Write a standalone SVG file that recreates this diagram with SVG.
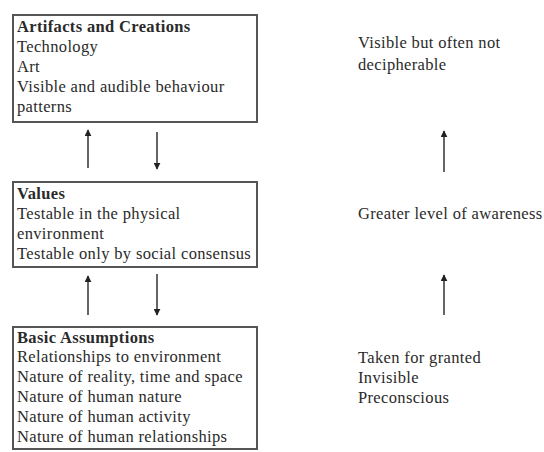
<svg xmlns="http://www.w3.org/2000/svg" width="544" height="452" viewBox="0 0 544 452">
<defs>
<marker id="ah" viewBox="0 0 10 10" refX="9" refY="5" markerWidth="7" markerHeight="7" orient="auto-start-reverse" markerUnits="userSpaceOnUse">
<path d="M0,0 L10,5 L0,10 z" fill="#222"/>
</marker>
<style>
.box{fill:#fff;stroke:#555;stroke-width:2}
.t{font-family:"Liberation Serif",serif;font-size:16.5px;letter-spacing:0.35px;fill:#2a2a2a}
.b{font-weight:bold}
.c{stroke:#333;stroke-width:1.5;fill:none}
</style>
</defs>
<rect width="544" height="452" fill="#fff"/>
<g id="artifacts">
<rect class="box" x="13" y="15" width="244" height="107"/>
<text class="t b" x="17" y="32">Artifacts and Creations</text>
<text class="t" x="17" y="52">Technology</text>
<text class="t" x="17" y="72">Art</text>
<text class="t" x="17" y="92">Visible and audible behaviour</text>
<text class="t" x="17" y="112">patterns</text>
</g>
<g id="values">
<rect class="box" x="13" y="182" width="244" height="85"/>
<text class="t b" x="17" y="199">Values</text>
<text class="t" x="17" y="219">Testable in the physical</text>
<text class="t" x="17" y="239">environment</text>
<text class="t" x="17" y="259">Testable only by social consensus</text>
</g>
<g id="assumptions">
<rect class="box" x="13" y="327" width="244" height="122"/>
<text class="t b" x="17" y="343">Basic Assumptions</text>
<text class="t" x="17" y="362">Relationships to environment</text>
<text class="t" x="17" y="382">Nature of reality, time and space</text>
<text class="t" x="17" y="402">Nature of human nature</text>
<text class="t" x="17" y="422">Nature of human activity</text>
<text class="t" x="17" y="442">Nature of human relationships</text>
</g>
<g id="visible">
<text class="t" x="358" y="48">Visible but often not</text>
<text class="t" x="358" y="70">decipherable</text>
</g>
<g id="awareness">
<text class="t" x="358" y="219">Greater level of awareness</text>
</g>
<g id="granted">
<text class="t" x="358" y="363">Taken for granted</text>
<text class="t" x="358" y="383">Invisible</text>
<text class="t" x="358" y="403">Preconscious</text>
</g>
<g id="connectors">
<line class="c" x1="88" y1="168" x2="88" y2="130" marker-end="url(#ah)"/>
<line class="c" x1="157" y1="132" x2="157" y2="169" marker-end="url(#ah)"/>
<line class="c" x1="88" y1="315" x2="88" y2="276" marker-end="url(#ah)"/>
<line class="c" x1="157" y1="274" x2="157" y2="315" marker-end="url(#ah)"/>
<line class="c" x1="444" y1="172" x2="444" y2="131" marker-end="url(#ah)"/>
<line class="c" x1="444" y1="315" x2="444" y2="275" marker-end="url(#ah)"/>
</g>
</svg>
